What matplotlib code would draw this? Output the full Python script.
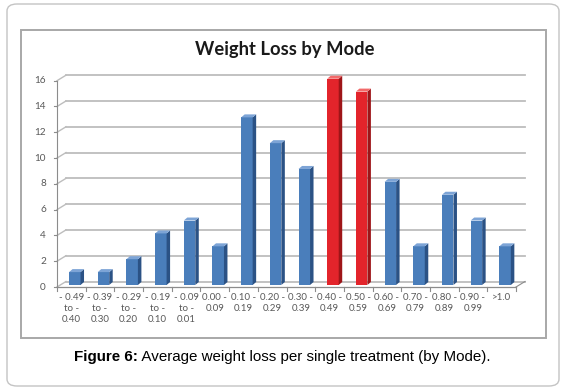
import matplotlib
matplotlib.use("Agg")
import matplotlib.pyplot as plt
from matplotlib.patches import Polygon, FancyBboxPatch, Rectangle
import numpy as np

# ---------------- data ----------------
categories = ["- 0.49\nto -\n0.40", "- 0.39\nto -\n0.30", "- 0.29\nto -\n0.20",
              "- 0.19\nto -\n0.10", "- 0.09\nto -\n0.01", "0.00 -\n0.09",
              "0.10 -\n0.19", "0.20 -\n0.29", "0.30 -\n0.39", "0.40 -\n0.49",
              "0.50 -\n0.59", "0.60 -\n0.69", "0.70 -\n0.79", "0.80 -\n0.89",
              "0.90 -\n0.99", ">1.0"]
counts = [1, 1, 2, 4, 5, 3, 13, 11, 9, 16, 15, 8, 3, 7, 5, 3]
highlight = [False] * 9 + [True, True] + [False] * 5
yticks = [0, 2, 4, 6, 8, 10, 12, 14, 16]
title = "Weight Loss by Mode"
caption_bold = "Figure 6:"
caption_rest = " Average weight loss per single treatment (by Mode)."

W, H = 561, 388
fig = plt.figure(figsize=(W / 100, H / 100), dpi=100)

def fx(px):
    return px / W

def fy(py):
    return 1 - py / H

# outer rounded frame
fig.patches.append(FancyBboxPatch((fx(7), fy(386)), fx(552), 382 / H,
                                  boxstyle="round,pad=0,rounding_size=0.018",
                                  transform=fig.transFigure, fill=False,
                                  edgecolor="#c4c4c4", linewidth=1.0))
# inner chart frame
fig.patches.append(Rectangle((fx(21), fy(338)), fx(525), 308 / H,
                             transform=fig.transFigure, fill=False,
                             edgecolor="#a8a8a8", linewidth=1.4))

# axes: x front plane from px 57 to 516, y 0 at 287, 16 at 80.7
left, right = 57, 516
y0, y16 = 287, 80.7
ax = fig.add_axes([fx(left), fy(y0), fx(right - left), (y0 - y16) / H])
ax.set_xlim(-0.5, len(counts) - 0.5)
ax.set_ylim(0, 16)
ax.axis("off")

pxx = (right - left) / len(counts)
pxy = (y0 - y16) / 16.0
ddx = 9.0 / pxx   # depth offset in data units
ddy = 5.5 / pxy

grid_c = "#bdbdbd"
axis_c = "#8c8c8c"
n = len(counts)
for v in yticks:
    ax.plot([-0.5 + ddx, n - 0.5 + ddx], [v + ddy, v + ddy], color=grid_c,
            lw=1.3, clip_on=False, zorder=1)
    ax.plot([-0.5, -0.5 + ddx], [v, v + ddy], color=grid_c, lw=1.0,
            clip_on=False, zorder=1)
    ax.plot([-0.5 - 3.0 / pxx, -0.5], [v, v], color=axis_c, lw=0.8,
            clip_on=False, zorder=2)
    ax.text(-0.5 - 11.0 / pxx, v, str(v), ha="right", va="center",
            fontsize=7.2, color="#595959", family="Lato")

# value axis line and floor
ax.plot([-0.5, -0.5], [0, 16], color=axis_c, lw=0.8, clip_on=False, zorder=2)
ax.plot([-0.5, n - 0.5], [0, 0], color=axis_c, lw=0.9, clip_on=False, zorder=2)
ax.plot([n - 0.5, n - 0.5 + ddx], [0, ddy], color=axis_c, lw=0.8,
        clip_on=False, zorder=2)
for k in range(n + 1):
    ax.plot([k - 0.5, k - 0.5], [0, -4.0 / pxy], color=axis_c, lw=0.8,
            clip_on=False, zorder=2)

# bars (pseudo 3D)
bw = 0.40
bx = 0.12          # shift of front face
by = 2.0 / pxy     # lift of front face
sdx = 3.5 / pxx
sdy = 3.0 / pxy
for i, (v, hl) in enumerate(zip(counts, highlight)):
    front = "#e3242b" if hl else "#4a7ebb"
    side = "#9e1518" if hl else "#2b5285"
    top = "#f26a6a" if hl else "#7da4d6"
    xl = i + bx - bw / 2
    xr = i + bx + bw / 2
    ax.bar(i + bx, v, width=bw, bottom=by, color=front, edgecolor="none",
           zorder=4, clip_on=False)
    ax.add_patch(Polygon([(xr, by), (xr + sdx, by + sdy), (xr + sdx, v + by + sdy),
                          (xr, v + by)], closed=True, facecolor=side,
                         edgecolor="none", zorder=4, clip_on=False))
    ax.add_patch(Polygon([(xl, v + by), (xl + sdx, v + by + sdy),
                          (xr + sdx, v + by + sdy), (xr, v + by)], closed=True,
                         facecolor=top, edgecolor="none", zorder=4, clip_on=False))

# category labels
for i, lab in enumerate(categories):
    ax.text(i, -5.5 / pxy, lab, ha="center", va="top", fontsize=7.0,
            color="#595959", family="Lato", linespacing=1.35,
            multialignment="center")

# title
fig.text(fx(284.5), fy(49), title, ha="center", va="center", fontsize=13.2,
         fontweight="bold", family="Lato", color="#1a1a1a")

# caption with bold prefix
fig.canvas.draw()
r = fig.canvas.get_renderer()
t1 = fig.text(0, fy(357), caption_bold, ha="left", va="center", fontsize=10.9,
              fontweight="bold", family="Liberation Sans", color="#000000")
t2 = fig.text(0, fy(357), caption_rest, ha="left", va="center", fontsize=10.9,
              family="Liberation Sans", color="#000000")
w1 = t1.get_window_extent(renderer=r).width
w2 = t2.get_window_extent(renderer=r).width
start = 282 - (w1 + w2) / 2
t1.set_x(fx(start))
t2.set_x(fx(start + w1))

fig.savefig("out.png", dpi=100)
